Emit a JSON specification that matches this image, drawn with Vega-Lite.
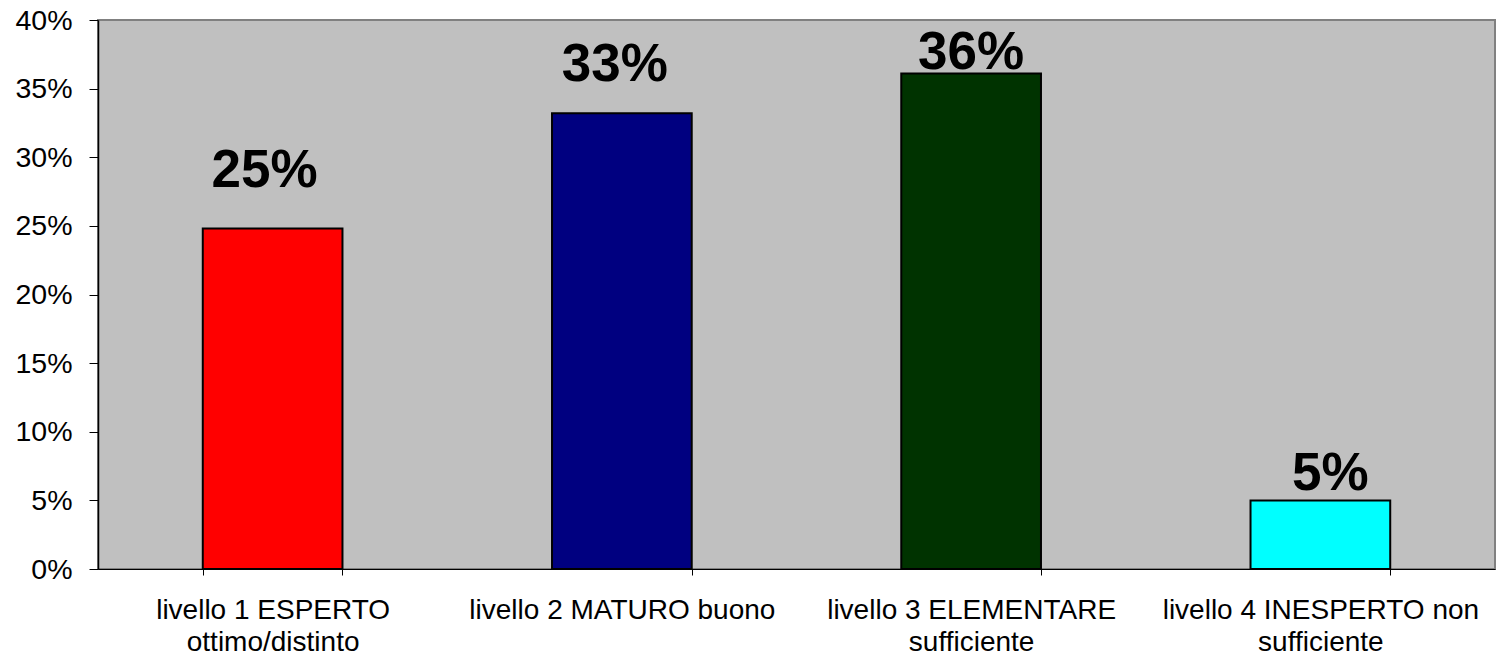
{
  "$schema": "https://vega.github.io/schema/vega-lite/v6.json",
  "width": 1397,
  "height": 549,
  "autosize": {"type": "none"},
  "padding": {"left": 98, "top": 20, "right": 4, "bottom": 91},
  "background": "white",
  "config": {
    "font": "Liberation Sans",
    "view": {"fill": "#C0C0C0", "stroke": "#808080", "strokeWidth": 2}
  },
  "data": {
    "values": [
      {"level": "livello 1 ESPERTO|ottimo/distinto", "value": 0.248, "label": "25%", "color": "c1"},
      {"level": "livello 2 MATURO buono", "value": 0.332, "label": "33%", "color": "c2"},
      {"level": "livello 3 ELEMENTARE|sufficiente", "value": 0.361, "label": "36%", "color": "c3"},
      {"level": "livello 4 INESPERTO non|sufficiente", "value": 0.05, "label": "5%", "color": "c4"}
    ]
  },
  "encoding": {
    "x": {
      "field": "level",
      "type": "nominal",
      "sort": null,
      "scale": {"paddingInner": 0.6, "paddingOuter": 0.3},
      "axis": {
        "title": null,
        "labelAngle": 0,
        "labelExpr": "datum.value ? split(datum.value, '|') : ''",
        "labelFontSize": 28,
        "labelColor": "black",
        "labelPadding": 21,
        "labelLineHeight": 32,
        "labelLimit": 500,
        "tickBand": "extent",
        "tickColor": "black",
        "tickSize": 6,
        "domainColor": "black",
        "domainWidth": 1
      }
    },
    "y": {
      "field": "value",
      "type": "quantitative",
      "scale": {"domain": [0, 0.4]},
      "axis": {
        "title": null,
        "format": ".0%",
        "values": [0, 0.05, 0.1, 0.15, 0.2, 0.25, 0.3, 0.35, 0.4],
        "grid": false,
        "labelFontSize": 28.5,
        "labelColor": "black",
        "labelPadding": 17,
        "tickColor": "black",
        "tickSize": 9,
        "domainColor": "black",
        "domainWidth": 1.5
      }
    }
  },
  "layer": [
    {
      "mark": {"type": "bar", "stroke": "black", "strokeWidth": 2},
      "encoding": {
        "color": {
          "field": "color",
          "type": "nominal",
          "scale": {"domain": ["c1", "c2", "c3", "c4"], "range": ["#FF0000", "#000080", "#003300", "#00FFFF"]},
          "legend": null
        }
      }
    },
    {
      "transform": [{"filter": "datum.label == '25%'"}],
      "mark": {"type": "text", "fontSize": 53, "fontWeight": "bold", "baseline": "alphabetic", "color": "black", "dy": -42, "dx": -8},
      "encoding": {"text": {"field": "label"}}
    },
    {
      "transform": [{"filter": "datum.label == '33%'"}],
      "mark": {"type": "text", "fontSize": 53, "fontWeight": "bold", "baseline": "alphabetic", "color": "black", "dy": -32, "dx": -7},
      "encoding": {"text": {"field": "label"}}
    },
    {
      "transform": [{"filter": "datum.label == '36%'"}],
      "mark": {"type": "text", "fontSize": 53, "fontWeight": "bold", "baseline": "alphabetic", "color": "black", "dy": -5, "dx": 0},
      "encoding": {"text": {"field": "label"}}
    },
    {
      "transform": [{"filter": "datum.label == '5%'"}],
      "mark": {"type": "text", "fontSize": 53, "fontWeight": "bold", "baseline": "alphabetic", "color": "black", "dy": -10, "dx": 10},
      "encoding": {"text": {"field": "label"}}
    }
  ]
}
